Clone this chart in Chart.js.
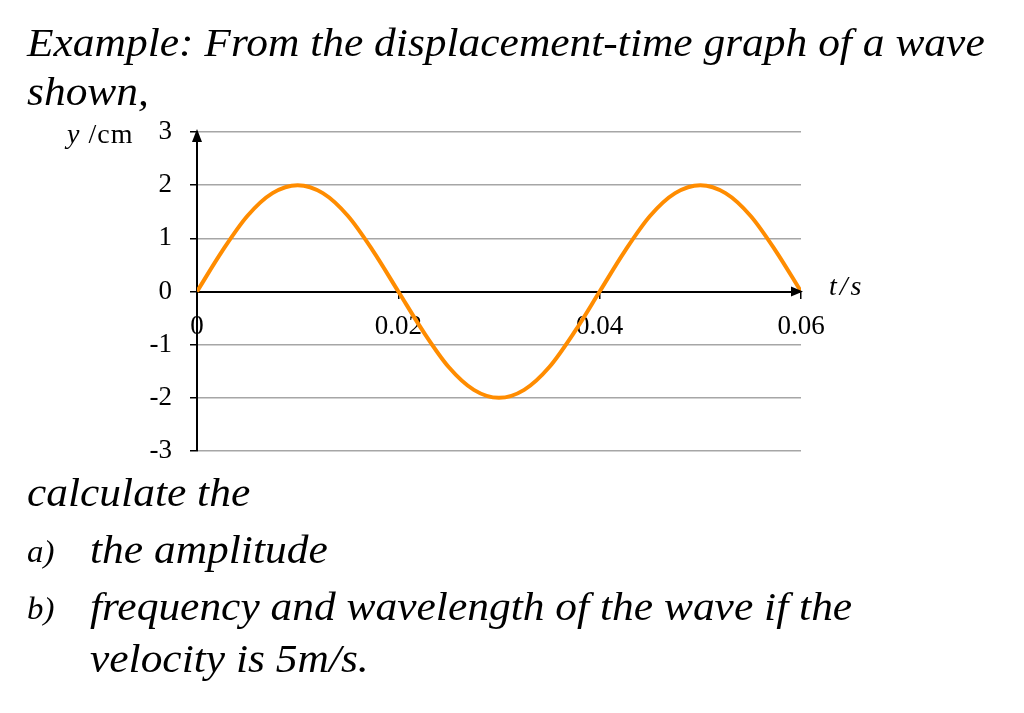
<!DOCTYPE html>
<html>
<head>
<meta charset="utf-8">
<script src="https://cdn.jsdelivr.net/npm/chart.js@4/dist/chart.umd.min.js"></script>
<style>
  html, body { margin: 0; padding: 0; background: #fff; }
  #wrap { position: relative; width: 1024px; height: 713px; overflow: hidden; }
  #myChart { position: absolute; left: 0; top: 0; }
  .txt { position: absolute; white-space: nowrap; font-family: "Liberation Serif", serif; font-style: italic; line-height: 1; color: #000; transform-origin: 0 0; }
  .up { font-style: normal; }
</style>
</head>
<body>
<div id="wrap">
  <canvas id="myChart" width="1024" height="713"></canvas>
  <div class="txt" id="l1" style="left:27px;font-size:41px;">Example: From the displacement-time graph of a wave</div>
  <div class="txt" id="l2" style="left:27px;font-size:41px;">shown,</div>
  <div class="txt" id="l3" style="left:27px;font-size:41px;">calculate the</div>
  <div class="txt" id="la" style="left:27px;font-size:31px;">a)</div>
  <div class="txt" id="l4" style="left:90px;font-size:41px;">the amplitude</div>
  <div class="txt" id="lb" style="left:27px;font-size:31px;">b)</div>
  <div class="txt" id="l5" style="left:90px;font-size:41px;">frequency and wavelength of the wave if the</div>
  <div class="txt" id="l6" style="left:90px;font-size:41px;">velocity is 5m/s.</div>
  <div class="txt" id="ylab" style="left:67px;font-size:28px;letter-spacing:1px;">y<span class="up"> /cm</span></div>
  <div class="txt" id="xlab" style="left:829px;font-size:28px;letter-spacing:3px;">t/s</div>
</div>
<script>
// wave, every 0.0025 s
var times = [0, 0.0025, 0.005, 0.0075, 0.01, 0.0125, 0.015, 0.0175, 0.02,
             0.0225, 0.025, 0.0275, 0.03, 0.0325, 0.035, 0.0375, 0.04,
             0.0425, 0.045, 0.0475, 0.05, 0.0525, 0.055, 0.0575, 0.06];
var displacement = [0, 0.76, 1.42, 1.85, 2, 1.85, 1.42, 0.76, 0,
                    -0.76, -1.42, -1.85, -2, -1.85, -1.42, -0.76, 0,
                    0.76, 1.42, 1.85, 2, 1.85, 1.42, 0.76, 0];
var yTicks = [-3, -2, -1, 0, 1, 2, 3];
var yTickLabels = ["-3", "-2", "-1", "0", "1", "2", "3"];
var xTicks = [0, 0.02, 0.04, 0.06];
var xTickLabels = ["0", "0.02", "0.04", "0.06"];

// text lines: [id, baseline y]
var lines = [["l1", 56], ["l2", 105], ["l3", 506], ["la", 562], ["l4", 563],
             ["lb", 619], ["l5", 620], ["l6", 672], ["ylab", 143], ["xlab", 295]];
var first = document.getElementById("l1");
var sx = 958 / first.scrollWidth;
for (let i = 0; i < lines.length; i++) {
  var el = document.getElementById(lines[i][0]);
  var fs = parseFloat(el.style.fontSize);
  el.style.top = (lines[i][1] - 0.8375 * fs) + "px";
  if (lines[i][0] != "ylab" && lines[i][0] != "xlab") {
    el.style.transform = "scaleX(" + sx + ")";
  }
}

var pts = [];
for (let i = 0; i < times.length; i++) {
  pts.push({x: times[i], y: displacement[i]});
}

var arrows = {
  id: "arrows",
  afterDatasetsDraw: function (chart) {
    var c = chart.ctx;
    var xs = chart.scales.x, ys = chart.scales.y;
    var x0 = xs.getPixelForValue(0), y0 = ys.getPixelForValue(0);
    var yTop = ys.getPixelForValue(3), xEnd = xs.getPixelForValue(0.06);
    c.save();
    c.fillStyle = "#000";
    c.beginPath();
    c.moveTo(x0, yTop - 3);
    c.lineTo(x0 - 5, yTop + 10);
    c.lineTo(x0 + 5, yTop + 10);
    c.closePath();
    c.fill();
    c.beginPath();
    c.moveTo(xEnd + 2, y0);
    c.lineTo(xEnd - 10, y0 - 5);
    c.lineTo(xEnd - 10, y0 + 5);
    c.closePath();
    c.fill();
    c.restore();
  }
};

var myChart = new Chart("myChart", {
  type: "line",
  data: {
    datasets: [{
      data: pts,
      borderColor: "#ff8c00",
      borderWidth: 4,
      pointRadius: 0,
      fill: false,
      tension: 0.4,
      cubicInterpolationMode: "monotone"
    }]
  },
  options: {
    responsive: false,
    animation: false,
    devicePixelRatio: 1,
    layout: { padding: { top: 132, right: 223, bottom: 262, left: 0 } },
    plugins: { legend: { display: false }, tooltip: { enabled: false } },
    scales: {
      x: {
        type: "linear",
        position: { y: 0 },
        min: 0, max: 0.06,
        afterBuildTicks: function (scale) {
          scale.ticks = xTicks.map(v => ({value: v}));
        },
        grid: { drawOnChartArea: false, color: "#000", tickLength: 6, lineWidth: 1.5 },
        border: { color: "#000", width: 2 },
        ticks: {
          color: "#000",
          padding: 13,
          maxRotation: 0,
          font: { family: "Liberation Serif", size: 27 },
          callback: function (value, index) { return xTickLabels[index]; }
        }
      },
      y: {
        min: -3, max: 3,
        afterBuildTicks: function (scale) {
          scale.ticks = yTicks.map(v => ({value: v}));
        },
        afterFit: function (scale) { scale.width = 197; },
        grid: {
          color: ctx => (ctx.tick && ctx.tick.value === 0) ? "#000" : "#a6a6a6",
          tickColor: "#000",
          lineWidth: 1.5,
          tickLength: 7
        },
        border: { color: "#000", width: 2 },
        ticks: {
          color: "#000",
          padding: 18,
          font: { family: "Liberation Serif", size: 27 },
          callback: function (value, index) { return yTickLabels[index]; }
        }
      }
    }
  },
  plugins: [arrows]
});
</script>
</body>
</html>
